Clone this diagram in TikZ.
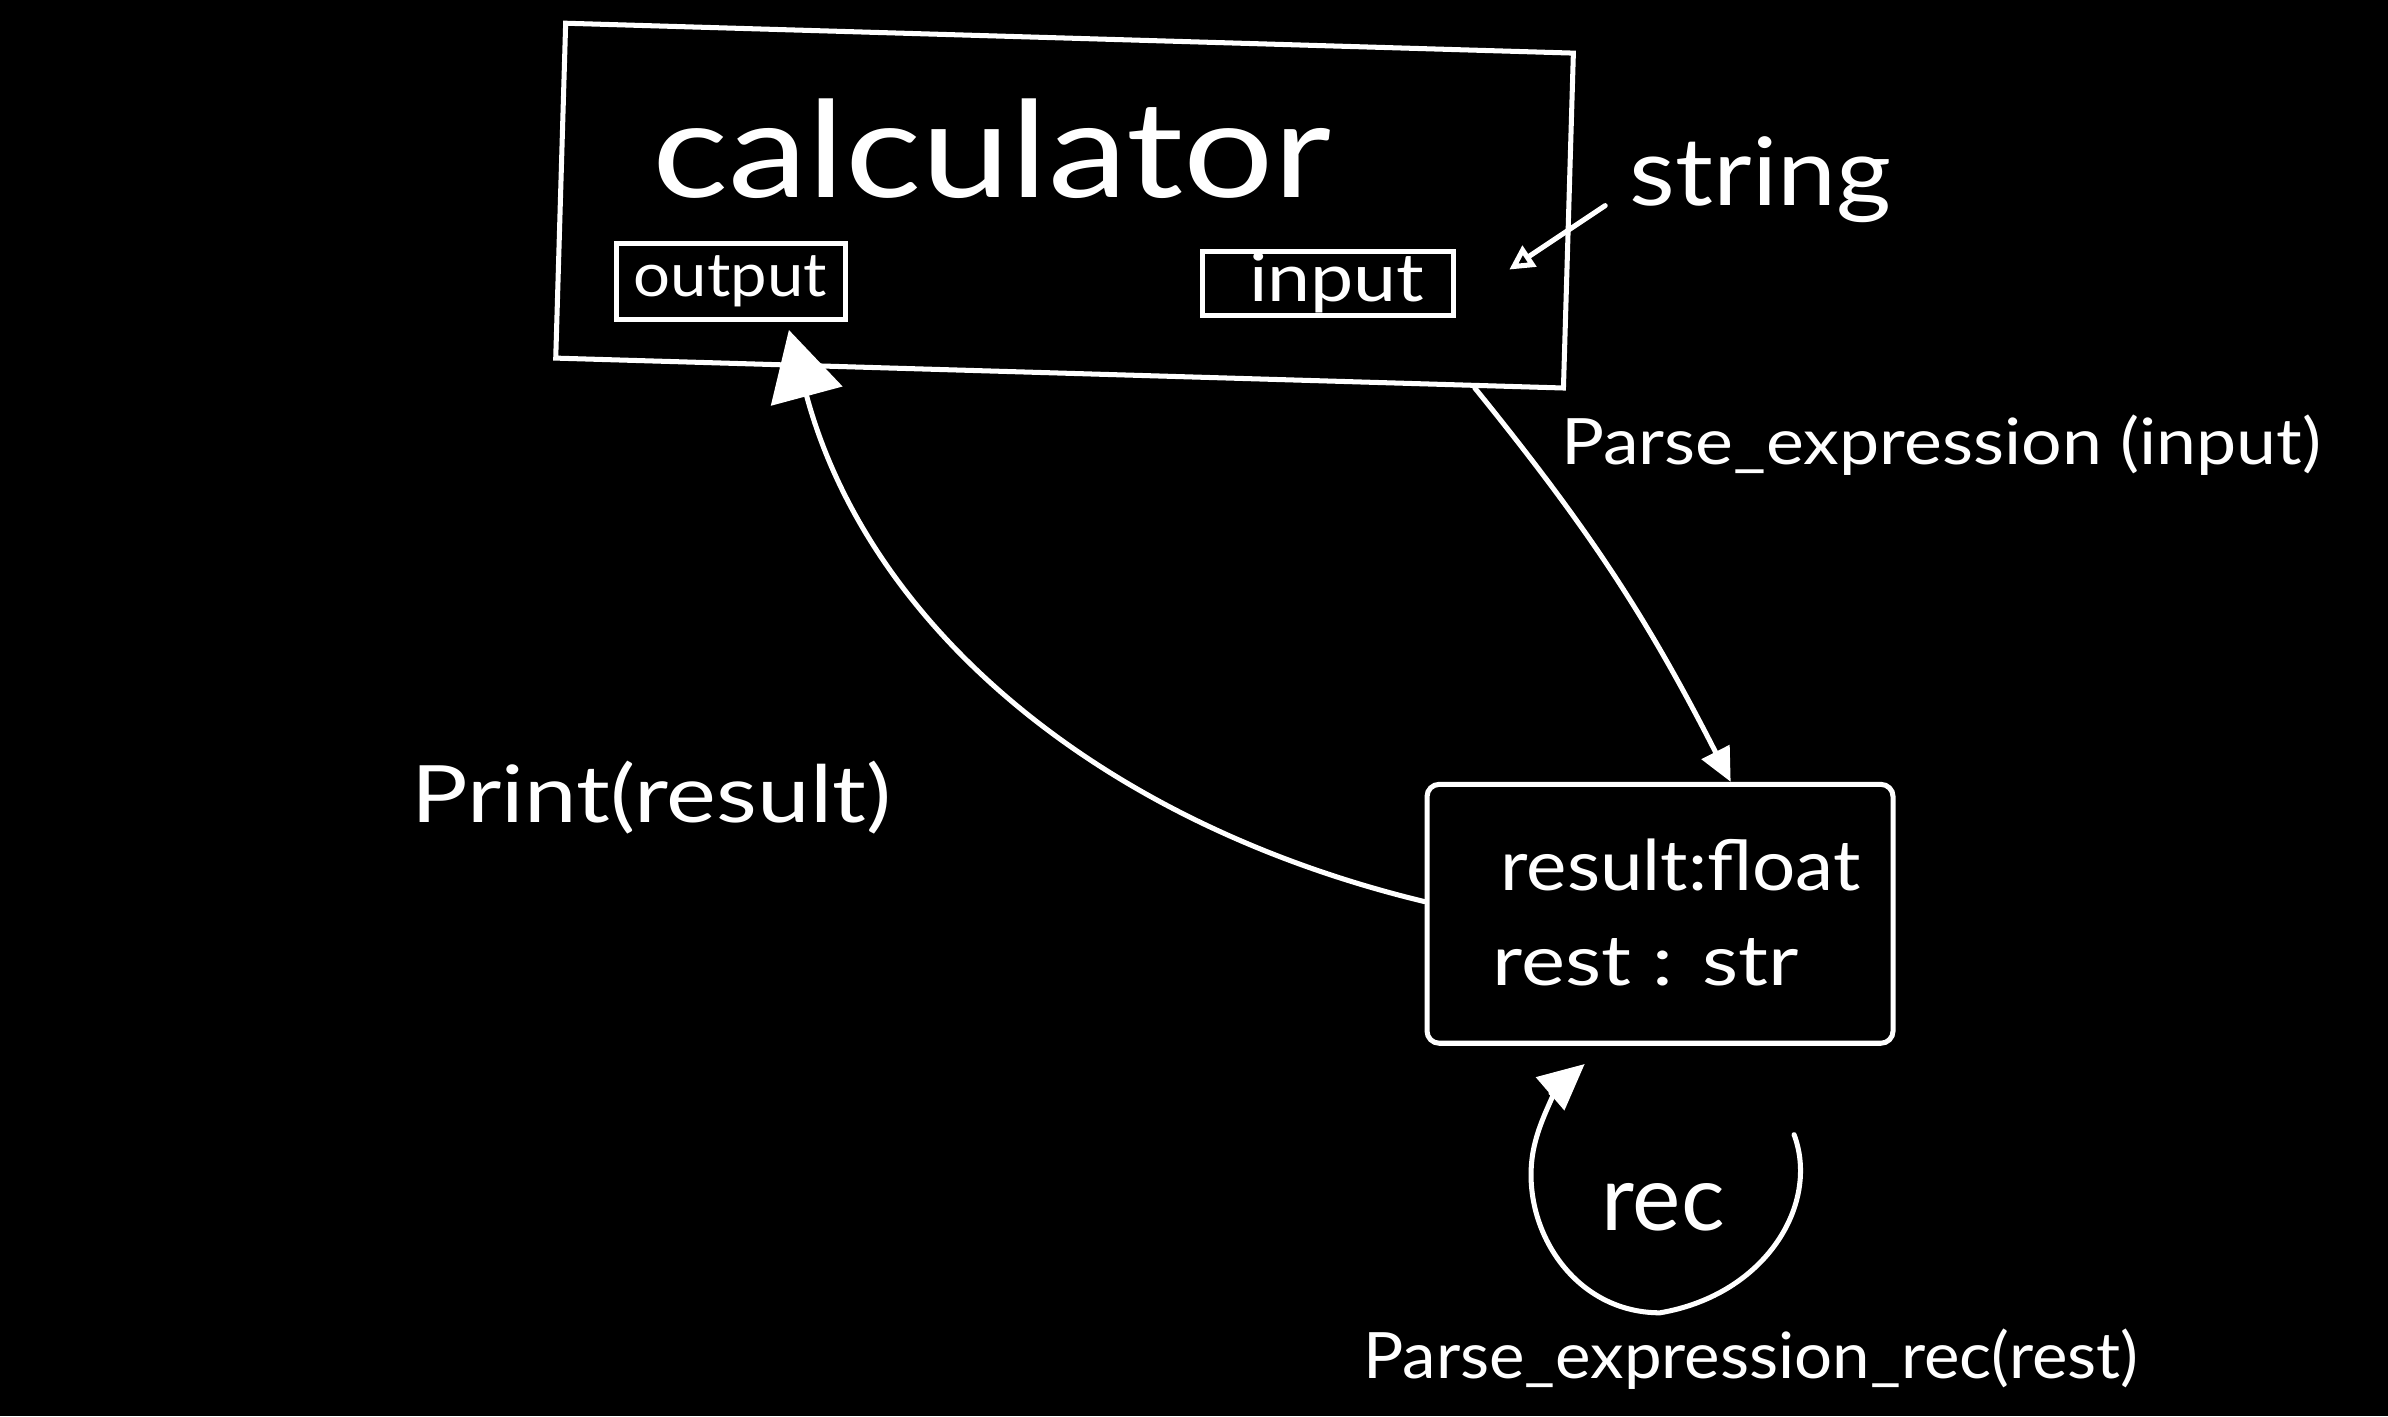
\documentclass[tikz,border=0pt]{standalone}
\usepackage{fontspec}
\setmainfont{Lato}
\usetikzlibrary{arrows.meta,calc}
\newcommand{\fs}[1]{\fontsize{#1}{#1}\selectfont}
\begin{document}
\begin{tikzpicture}[x=1pt,y=-1pt,
  box/.style={draw=white, line width=3.3pt, inner sep=0pt},
  lbl/.style={text=white, inner sep=0pt, anchor=base west},
  conn/.style={draw=white, line width=3.3pt, line cap=round, line join=round}]
\fill[black] (0,0) rectangle (1568,930);
\useasboundingbox (0,0) rectangle (1568,930);

% calculator box
\node[box, minimum width=662pt, minimum height=220pt, rotate=-1.7] (calc) at (699,135) {};
\node[lbl, font=\fs{88}, xscale=1.19] (title) at (428,130) {calculator};
\node[box, minimum width=150pt, minimum height=50pt] (out) at (480,185) {};
\node[lbl, font=\fs{40}, xscale=1.07] (outlbl) at (416,195) {output};
\node[box, minimum width=165pt, minimum height=42pt] (inp) at (872,186) {};
\node[lbl, font=\fs{44}, xscale=1.15] (inplbl) at (820,198) {input};
\node[lbl, font=\fs{62}, xscale=1.12] (str) at (1070,135) {string};
\coordinate (strend) at (991,177);

% result box
\node[box, minimum width=306pt, minimum height=170pt, rounded corners=8pt] (res) at (1090,600) {};
\node[lbl, font=\fs{46}, xscale=1.09] (r1) at (985,585) {result:float};
\node[lbl, font=\fs{46}, xscale=1.19] (r2) at (980,647) {rest : str};

% labels
\node[lbl, font=\fs{42}, xscale=1.12] (pe) at (1025,305) {Parse\_expression (input)};
\node[lbl, font=\fs{52}, xscale=1.19] (pr) at (270,540) {Print(result)};
\node[text=white, inner sep=0pt, anchor=base, font=\fs{60}] (rec) at (1092,808) {rec};
\node[lbl, font=\fs{42}, xscale=1.05] (per) at (895,905) {Parse\_expression\_rec(rest)};

% connectors
\draw[conn, -{Triangle[length=22pt,width=20pt]}]
  ($(calc.south west)!0.91!(calc.south east)$) to[bend left=6]
  ($(res.north west)!0.65!(res.north east)$);
\draw[conn, -{Triangle[length=45pt,width=48pt]}]
  ([yshift=8pt]res.west) .. controls (720,540) and (570,410) .. ([xshift=38pt,yshift=-5pt]out.south);
\draw[conn, -{Triangle[open,length=16pt,width=16pt]}]
  ([xshift=-16pt]str.base west) -- (strend);
\coordinate (loopstart) at (1178,745);
\draw[conn, -{Triangle[length=30pt,width=28pt]}]
  (loopstart) .. controls (1195,790) and (1160,850) .. (1090,862)
  .. controls (1030,862) and (995,800) .. (1008,750)
  .. controls (1013,730) and (1025,712) .. ($(res.south west)!0.34!(res.south east)+(0,12)$);
\end{tikzpicture}
\end{document}
